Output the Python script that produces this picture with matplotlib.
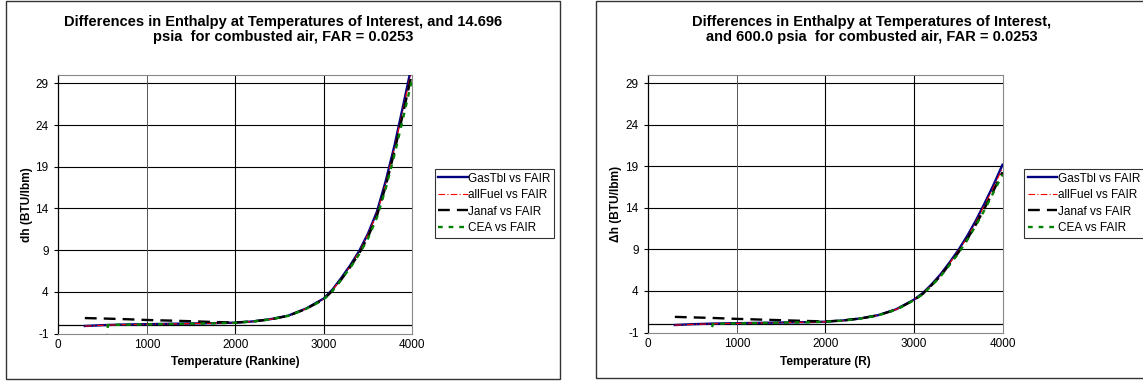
import numpy as np
import matplotlib
matplotlib.use("Agg")
import matplotlib.pyplot as plt
from matplotlib.patches import Rectangle

plt.rcParams['font.family'] = ['Liberation Sans', 'DejaVu Sans']
plt.rcParams['axes.unicode_minus'] = False

# Temperatures (Rankine) for GasTbl, allFuel and Janaf
T = [300, 500, 750, 1000, 1250, 1500, 1750, 2000, 2200, 2400, 2600, 2800,
     3000, 3100, 3200, 3300, 3400, 3500, 3600, 3700, 3800, 3900, 4000]

# 14.696 psia
gastbl_lo = [-0.10, 0.00, 0.08, 0.12, 0.16, 0.20, 0.24, 0.30, 0.45, 0.72, 1.15, 2.00,
             3.20, 4.30, 5.70, 7.20, 8.90, 11.0, 13.6, 17.3, 21.6, 26.5, 31.5]
allfuel_lo = [-0.12, -0.02, 0.06, 0.10, 0.15, 0.19, 0.23, 0.29, 0.44, 0.70, 1.13, 1.98,
              3.15, 4.25, 5.60, 7.10, 8.80, 10.9, 13.4, 17.0, 21.3, 26.1, 31.0]
janaf_lo = [0.85, 0.80, 0.72, 0.62, 0.55, 0.47, 0.38, 0.32, 0.45, 0.70, 1.12, 1.95,
            3.10, 4.15, 5.50, 7.00, 8.60, 10.6, 13.1, 16.7, 20.9, 25.6, 30.4]
T_cea_lo = [550, 560] + T[2:]
cea_lo = [-1.60, 0.02, 0.06, 0.10, 0.14, 0.18, 0.22, 0.29, 0.44, 0.70, 1.12, 1.95,
          3.10, 4.15, 5.50, 6.90, 8.50, 10.4, 12.9, 16.4, 20.5, 25.0, 29.6]

# 600.0 psia
gastbl_hi = [-0.10, 0.00, 0.08, 0.12, 0.16, 0.20, 0.24, 0.30, 0.45, 0.70, 1.10, 1.80,
             2.95, 3.75, 4.80, 6.00, 7.40, 8.90, 10.6, 12.5, 14.6, 16.8, 19.2]
allfuel_hi = [-0.12, -0.02, 0.06, 0.10, 0.15, 0.19, 0.23, 0.29, 0.44, 0.69, 1.08, 1.78,
              2.92, 3.70, 4.75, 5.90, 7.30, 8.80, 10.4, 12.3, 14.4, 16.5, 18.8]
janaf_hi = [0.88, 0.82, 0.74, 0.64, 0.56, 0.48, 0.40, 0.33, 0.45, 0.69, 1.08, 1.76,
            2.90, 3.65, 4.70, 5.80, 7.20, 8.60, 10.2, 12.0, 14.0, 16.1, 18.3]
T_cea_hi = [720, 730] + T[2:]
cea_hi = [-0.35, 0.02, 0.06, 0.10, 0.14, 0.18, 0.22, 0.29, 0.44, 0.68, 1.07, 1.75,
          2.88, 3.62, 4.65, 5.75, 7.10, 8.50, 10.1, 11.9, 13.8, 15.9, 18.0]

labels = ["GasTbl vs FAIR", "allFuel vs FAIR", "Janaf vs FAIR", "CEA vs FAIR"]
yticks = [-1, 4, 9, 14, 19, 24, 29]
xticks = [0, 1000, 2000, 3000, 4000]

W, H = 1143, 381
fig = plt.figure(figsize=(W / 100, H / 100), dpi=100)


def px(x0, y0, x1, y1):
    # pixel box -> figure fraction [left, bottom, width, height]
    return [x0 / W, 1 - y1 / H, (x1 - x0) / W, (y1 - y0) / H]


def draw_panel(box, frame, title, title_x, xlabel, ylabel, ylabel_x,
               series, legend_x):
    # outer chart border
    fig.patches.append(Rectangle((frame[0] / W, 1 - frame[3] / H),
                                 (frame[2] - frame[0]) / W, (frame[3] - frame[1]) / H,
                                 transform=fig.transFigure, fill=False,
                                 edgecolor="#333333", lw=1.0))
    ax = fig.add_axes(px(*box))
    ax.set_xlim(0, 4000)
    ax.set_ylim(-1, 30)

    # gridlines + zero line
    for y in yticks[1:]:
        ax.axhline(y, color="black", lw=0.8, zorder=1)
    ax.axhline(0, color="black", lw=0.9, zorder=1)
    ax.axvline(1000, color="#555555", lw=0.7, zorder=1)
    for x in [2000, 3000]:
        ax.axvline(x, color="black", lw=0.8, zorder=1)

    (t, gas), (_, fuel), (_, jan), (tc, cea) = series
    h1, = ax.plot(t, gas, color="#000080", lw=1.7, zorder=3)
    h2, = ax.plot(t, fuel, color="red", lw=0.8, ls=(0, (6, 2, 1, 2)), zorder=4)
    h3, = ax.plot(t, jan, color="black", lw=1.7, ls=(0, (5, 3)), zorder=5)
    h4, = ax.plot(tc, cea, color="#008000", lw=1.7, ls=(0, (2, 2.5)), zorder=6)

    ax.set_yticks(yticks)
    ax.set_xticks(xticks)
    ax.tick_params(axis="y", length=3, width=0.8, labelsize=8.5, pad=4)
    ax.tick_params(axis="x", length=0, labelsize=8.5, pad=4)
    for s in ["top", "right", "bottom"]:
        ax.spines[s].set_color("#888888")
        ax.spines[s].set_linewidth(0.8)
    ax.spines["left"].set_linewidth(0.9)

    fig.text(title_x / W, 1 - 29.5 / H, title, ha="center", va="center",
             fontsize=10.5, fontweight="bold", linespacing=1.15)
    fig.text((box[0] + box[2]) / 2 / W, 1 - 362 / H, xlabel, ha="center", va="center",
             fontsize=8.6, fontweight="bold")
    fig.text(ylabel_x / W, 1 - (box[1] + box[3]) / 2 / H, ylabel, ha="center",
             va="center", rotation=90, fontsize=8.6, fontweight="bold")

    leg = fig.legend([h1, h2, h3, h4], labels, loc="upper left",
                     bbox_to_anchor=(legend_x / W, 1 - 169 / H),
                     fontsize=8.5, frameon=True, fancybox=False,
                     handlelength=2.5, handletextpad=0.05, borderpad=0.3,
                     labelspacing=0.38, borderaxespad=0)
    leg.get_frame().set_edgecolor("black")
    leg.get_frame().set_linewidth(0.8)
    return ax


draw_panel((58.3, 75, 412.3, 333.5), (6, 1, 560, 379),
           "Differences in Enthalpy at Temperatures of Interest, and 14.696\n"
           "psia  for combusted air, FAR = 0.0253", 283,
           "Temperature (Rankine)", "dh (BTU/lbm)", 27,
           [(T, gastbl_lo), (T, allfuel_lo), (T, janaf_lo), (T_cea_lo, cea_lo)], 434.5)

draw_panel((648.3, 75, 1002.5, 332.5), (596, 1, 1150, 378),
           "Differences in Enthalpy at Temperatures of Interest,\n"
           "and 600.0 psia  for combusted air, FAR = 0.0253", 872,
           "Temperature (R)", "\u0394h (BTU/lbm)", 616,
           [(T, gastbl_hi), (T, allfuel_hi), (T, janaf_hi), (T_cea_hi, cea_hi)], 1024)

fig.savefig("out.png", dpi=100)
